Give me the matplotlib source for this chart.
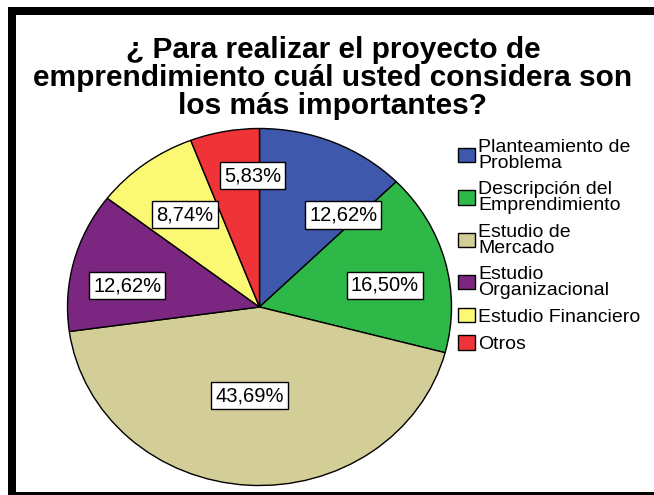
import matplotlib.pyplot as plt
import numpy as np
from matplotlib.patches import Rectangle

plt.rcParams['font.family'] = ['Liberation Sans', 'DejaVu Sans']

title = '¿ Para realizar el proyecto de\nemprendimiento cuál usted considera son\nlos más importantes?'
categories = ['Planteamiento de\nProblema', 'Descripción del\nEmprendimiento', 'Estudio de\nMercado',
              'Estudio\nOrganizacional', 'Estudio Financiero', 'Otros']
percentages = [12.62, 16.50, 43.69, 12.62, 8.74, 5.83]

colors = ['#3e58ac', '#2eb848', '#d3ce97', '#7b2781', '#fbf873', '#ef3338']
# label placement: clockwise shift from wedge middle (deg) and radius
label_shift = [17.5, 4.4, 2.4, -5.0, -0.2, 7.8]
label_r = [0.675, 0.663, 0.50, 0.70, 0.646, 0.735]

W, H = 654, 495
fig = plt.figure(figsize=(W / 100, H / 100), dpi=100)

# pie ellipse: center (259.5, 307) px, semi axes 192 x 178.5 px
cx, cy, rx, ry = 259.5, 307, 192, 178.5
m = 1.1
ax = fig.add_axes([(cx - rx * m) / W, (H - cy - ry * m) / H, 2 * rx * m / W, 2 * ry * m / H])
wedges, _ = ax.pie(percentages, colors=colors, startangle=90, counterclock=False,
                   wedgeprops=dict(edgecolor='black', linewidth=1))
ax.set_aspect('auto')
ax.set_xlim(-m, m)
ax.set_ylim(-m, m)
ax.axis('off')

for w, v, s, r in zip(wedges, percentages, label_shift, label_r):
    a = np.deg2rad((w.theta1 + w.theta2) / 2 - s)
    txt = f'{v:.2f}'.replace('.', ',') + '%'
    ax.text(r * np.cos(a), r * np.sin(a), txt, ha='center', va='center', fontsize=14.5,
            bbox=dict(boxstyle='square,pad=0.2', fc='white', ec='black', lw=1))

fig.text(333 / W, 1 - 78 / H, title, ha='center', va='center', fontsize=21.5,
         fontweight='bold', linespacing=0.98)

leg = fig.legend(wedges, categories, loc='upper left', bbox_to_anchor=(458 / W, 1 - 139 / H),
                 frameon=False, fontsize=14, handlelength=0.85, handleheight=0.75,
                 handletextpad=0.2, labelspacing=0.48, borderpad=0, borderaxespad=0)
for t in leg.get_texts():
    t.set_linespacing(0.92)

# black frame
fig.patches.append(Rectangle((8 / W, 1 - 15 / H), 1, 8 / H, transform=fig.transFigure,
                             fc='black', ec='none'))
fig.patches.append(Rectangle((8 / W, 0), 8 / W, 1 - 7 / H, transform=fig.transFigure,
                             fc='black', ec='none'))
fig.patches.append(Rectangle((8 / W, 0.5 / H), 1, 3 / H, transform=fig.transFigure,
                             fc='black', ec='none'))

fig.savefig('out.png', dpi=100)
